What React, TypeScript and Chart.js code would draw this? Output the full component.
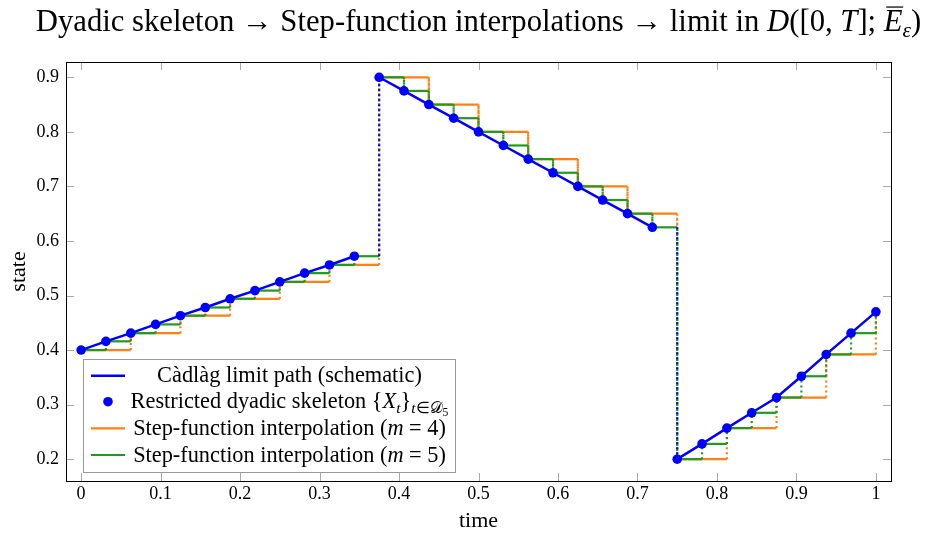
import React, { useEffect, useRef } from 'react';
import { Chart, registerables } from 'chart.js';

Chart.register(...registerables);

// ---------- data ----------
const dyadicTimes = [
  0, 0.03125, 0.0625, 0.09375, 0.125, 0.15625, 0.1875, 0.21875, 0.25, 0.28125, 0.3125, 0.34375,
  0.375, 0.40625, 0.4375, 0.46875, 0.5, 0.53125, 0.5625, 0.59375, 0.625, 0.65625, 0.6875, 0.71875,
  0.75, 0.78125, 0.8125, 0.84375, 0.875, 0.90625, 0.9375, 0.96875, 1,
];
const skeletonValues = [
  0.4, 0.416, 0.431, 0.447, 0.463, 0.478, 0.494, 0.509, 0.525, 0.541, 0.556, 0.572,
  0.9, 0.875, 0.85, 0.825, 0.8, 0.775, 0.75, 0.725, 0.7, 0.675, 0.65, 0.625,
  0.2, 0.228, 0.257, 0.285, 0.313, 0.352, 0.392, 0.431, 0.47,
];
const jumpTimes = [0.375, 0.75];
const stepLevels = [4, 5];
const skeletonLevel = 5;

const xTickValues = [0, 0.1, 0.2, 0.3, 0.4, 0.5, 0.6, 0.7, 0.8, 0.9, 1];
const xTickLabels = ['0', '0.1', '0.2', '0.3', '0.4', '0.5', '0.6', '0.7', '0.8', '0.9', '1'];
const yTickValues = [0.2, 0.3, 0.4, 0.5, 0.6, 0.7, 0.8, 0.9];
const yTickLabels = ['0.2', '0.3', '0.4', '0.5', '0.6', '0.7', '0.8', '0.9'];
const xRange = [-0.019, 1.019];
const yRange = [0.16, 0.928];

const xAxisTitle = 'time';
const yAxisTitle = 'state';

type Run = { t: string; it?: boolean; lv?: number; ov?: boolean };

const titleRuns: Run[] = [
  { t: 'Dyadic skeleton \u2192 Step-function interpolations \u2192 limit in ' },
  { t: 'D', it: true },
  { t: '([0, ' },
  { t: 'T', it: true },
  { t: ']; ' },
  { t: 'E', it: true, ov: true },
  { t: '\u03b5', it: true, lv: 1 },
  { t: ')' },
];

const legendRows: Run[][] = [
  [{ t: 'C\u00e0dl\u00e0g limit path (schematic)' }],
  [
    { t: 'Restricted dyadic skeleton {' },
    { t: 'X', it: true },
    { t: 't', it: true, lv: 1 },
    { t: '}' },
    { t: 't', it: true, lv: 1 },
    { t: '\u2208', lv: 1 },
    { t: '\ud835\udc9f', lv: 1 },
    { t: '5', lv: 2 },
  ],
  [{ t: 'Step-function interpolation (' }, { t: 'm', it: true }, { t: ' = 4)' }],
  [{ t: 'Step-function interpolation (' }, { t: 'm', it: true }, { t: ' = 5)' }],
];

// ---------- styles ----------
const BLUE = '#0000ff';
const ORANGE = '#ff8010';
const GREEN = '#1f9a1f';
const FONT = '"Liberation Serif", "Times New Roman", serif';
const legendKinds = [
  { color: BLUE, kind: 'line', width: 2.5 },
  { color: BLUE, kind: 'dot', width: 0 },
  { color: ORANGE, kind: 'line', width: 2.2 },
  { color: GREEN, kind: 'line', width: 2.2 },
];

// ---------- derived tables ----------
type P = { x: number; y: number | null };

function buildBluePath(): P[] {
  const pts: P[] = [];
  dyadicTimes.forEach((t, i) => {
    if (jumpTimes.includes(t)) pts.push({ x: t, y: null });
    pts.push({ x: t, y: skeletonValues[i] });
  });
  return pts;
}

function buildBlueJumps(): P[] {
  const pts: P[] = [];
  dyadicTimes.forEach((t, i) => {
    if (jumpTimes.includes(t) && i > 0) {
      pts.push({ x: t, y: skeletonValues[i - 1] });
      pts.push({ x: t, y: skeletonValues[i] });
      pts.push({ x: t, y: null });
    }
  });
  return pts;
}

function buildStep(m: number): P[] {
  const stride = Math.pow(2, skeletonLevel - m);
  const idx: number[] = [];
  for (let i = 0; i < dyadicTimes.length; i += stride) idx.push(i);
  const pts: P[] = [];
  for (let j = 0; j < idx.length - 1; j++) {
    pts.push({ x: dyadicTimes[idx[j]], y: skeletonValues[idx[j]] });
    pts.push({ x: dyadicTimes[idx[j + 1]], y: skeletonValues[idx[j]] });
  }
  const last = idx[idx.length - 1];
  pts.push({ x: dyadicTimes[last], y: skeletonValues[last] });
  return pts;
}

// ---------- rich text ----------
function runSize(size: number, lv = 0) {
  return lv === 0 ? size : lv === 1 ? size * 0.7 : size * 0.52;
}
function runShift(size: number, lv = 0) {
  return lv === 0 ? 0 : lv === 1 ? size * 0.2 : size * 0.33;
}
function setRunFont(ctx: CanvasRenderingContext2D, size: number, r: Run) {
  ctx.font = `${r.it ? 'italic ' : ''}${runSize(size, r.lv)}px ${FONT}`;
}
function measureRuns(ctx: CanvasRenderingContext2D, runs: Run[], size: number) {
  let w = 0;
  for (const r of runs) {
    setRunFont(ctx, size, r);
    w += ctx.measureText(r.t).width;
  }
  return w;
}
function drawRuns(ctx: CanvasRenderingContext2D, runs: Run[], size: number, x: number, y: number) {
  ctx.textAlign = 'left';
  ctx.textBaseline = 'alphabetic';
  for (const r of runs) {
    setRunFont(ctx, size, r);
    const w = ctx.measureText(r.t).width;
    ctx.fillText(r.t, x, y + runShift(size, r.lv));
    if (r.ov) {
      ctx.beginPath();
      ctx.lineWidth = Math.max(1, size * 0.04);
      const oy = y - size * 0.78;
      ctx.moveTo(x + size * 0.08, oy);
      ctx.lineTo(x + w + size * 0.02, oy);
      ctx.stroke();
    }
    x += w;
  }
}

const decorPlugin = {
  id: 'decor',
  beforeDatasetsDraw(chart: any) {
    const { ctx, chartArea: a, scales } = chart;
    ctx.save();
    ctx.strokeStyle = '#a8a8a8';
    ctx.lineWidth = 1;
    const tl = 8;
    ctx.beginPath();
    for (const v of xTickValues) {
      const px = Math.round(scales.x.getPixelForValue(v)) + 0.5;
      ctx.moveTo(px, a.bottom);
      ctx.lineTo(px, a.bottom - tl);
      ctx.moveTo(px, a.top);
      ctx.lineTo(px, a.top + tl);
    }
    for (const v of yTickValues) {
      const py = Math.round(scales.y.getPixelForValue(v)) + 0.5;
      ctx.moveTo(a.left, py);
      ctx.lineTo(a.left + tl, py);
      ctx.moveTo(a.right, py);
      ctx.lineTo(a.right - tl, py);
    }
    ctx.stroke();
    ctx.restore();
  },
  afterDraw(chart: any) {
    const { ctx, chartArea: a } = chart;
    ctx.save();
    // frame
    ctx.strokeStyle = '#000';
    ctx.lineWidth = 1;
    ctx.strokeRect(Math.round(a.left) + 0.5, Math.round(a.top) + 0.5, Math.round(a.right - a.left), Math.round(a.bottom - a.top));

    ctx.fillStyle = '#000';
    ctx.strokeStyle = '#000';
    // title
    const base = 26;
    const tw0 = measureRuns(ctx, titleRuns, base);
    const tSize = (base * 886) / tw0;
    const tw = measureRuns(ctx, titleRuns, tSize);
    const cx = (a.left + a.right) / 2;
    drawRuns(ctx, titleRuns, tSize, cx - tw / 2, 31);

    // axis titles
    ctx.font = `22px ${FONT}`;
    ctx.textAlign = 'center';
    ctx.textBaseline = 'alphabetic';
    ctx.fillText(xAxisTitle, cx, 527);
    ctx.save();
    ctx.translate(25, (a.top + a.bottom) / 2);
    ctx.rotate(-Math.PI / 2);
    ctx.fillText(yAxisTitle, 0, 0);
    ctx.restore();

    // legend
    const lx = a.left + 17;
    const ly = a.bottom - 122;
    const lw = 372;
    const lh = 113;
    ctx.fillStyle = '#fff';
    ctx.fillRect(lx, ly, lw, lh);
    ctx.strokeStyle = '#999';
    ctx.lineWidth = 1;
    ctx.strokeRect(Math.round(lx) + 0.5, Math.round(ly) + 0.5, lw, lh);
    const lbase = 18;
    const lSize = (lbase * 313) / measureRuns(ctx, legendRows[2], lbase);
    const rowOffsets = [16.7, 42.7, 69.3, 96];
    const textCenter = lx + 206.5;
    legendRows.forEach((runs, i) => {
      const ry = ly + rowOffsets[i];
      const k = legendKinds[i];
      if (k.kind === 'line') {
        ctx.strokeStyle = k.color;
        ctx.lineWidth = k.width;
        ctx.beginPath();
        ctx.moveTo(lx + 8, ry);
        ctx.lineTo(lx + 42, ry);
        ctx.stroke();
      } else {
        ctx.fillStyle = k.color;
        ctx.beginPath();
        ctx.arc(lx + 25, ry, 4.8, 0, Math.PI * 2);
        ctx.fill();
      }
      ctx.fillStyle = '#000';
      ctx.strokeStyle = '#000';
      const w = measureRuns(ctx, runs, lSize);
      drawRuns(ctx, runs, lSize, textCenter - w / 2, ry + lSize * 0.3);
    });
    ctx.restore();
  },
};

const verticalDotted = (ctx: any) =>
  ctx.p0.parsed.x === ctx.p1.parsed.x ? [2, 3] : undefined;

export default function App() {
  const ref = useRef<HTMLCanvasElement | null>(null);
  useEffect(() => {
    if (!ref.current) return;
    const chart = new Chart(ref.current, {
      type: 'line',
      data: {
        datasets: [
          {
            label: 'Restricted dyadic skeleton',
            data: dyadicTimes.map((t, i) => ({ x: t, y: skeletonValues[i] })),
            showLine: false,
            pointRadius: 4.8,
            pointBorderWidth: 0,
            pointBackgroundColor: BLUE,
            borderColor: BLUE,
            order: 0,
          },
          {
            label: 'Càdlàg limit path (schematic)',
            data: buildBluePath(),
            borderColor: BLUE,
            borderWidth: 2.5,
            pointRadius: 0,
            spanGaps: false,
            order: 1,
          },
          {
            label: 'jumps',
            data: buildBlueJumps(),
            borderColor: BLUE,
            borderWidth: 2,
            borderDash: [2, 3],
            pointRadius: 0,
            spanGaps: false,
            order: 2,
          },
          {
            label: 'Step-function interpolation (m = 5)',
            data: buildStep(stepLevels[1]),
            borderColor: GREEN,
            borderWidth: 2.2,
            pointRadius: 0,
            segment: { borderDash: verticalDotted },
            order: 3,
          },
          {
            label: 'Step-function interpolation (m = 4)',
            data: buildStep(stepLevels[0]),
            borderColor: ORANGE,
            borderWidth: 2.2,
            pointRadius: 0,
            segment: { borderDash: verticalDotted },
            order: 4,
          },
        ],
      },
      options: {
        animation: false,
        responsive: false,
        maintainAspectRatio: false,
        layout: { padding: { left: 0, top: 62, right: 37, bottom: 0 } },
        plugins: { legend: { display: false }, tooltip: { enabled: false }, title: { display: false } },
        scales: {
          x: {
            type: 'linear',
            min: xRange[0],
            max: xRange[1],
            grid: { display: false, drawTicks: false, tickLength: 0 },
            border: { display: false },
            afterBuildTicks: (s: any) => {
              s.ticks = xTickValues.map((v) => ({ value: v }));
            },
            afterFit: (s: any) => {
              s.height = 55;
            },
            ticks: {
              autoSkip: false,
              maxRotation: 0,
              padding: 2,
              color: '#000',
              font: { family: FONT, size: 18 },
              callback: (_v: any, i: number) => xTickLabels[i],
            },
          },
          y: {
            type: 'linear',
            min: yRange[0],
            max: yRange[1],
            grid: { display: false, drawTicks: false, tickLength: 0 },
            border: { display: false },
            afterBuildTicks: (s: any) => {
              s.ticks = yTickValues.map((v) => ({ value: v }));
            },
            afterFit: (s: any) => {
              s.width = 66;
            },
            ticks: {
              autoSkip: false,
              padding: 7,
              color: '#000',
              font: { family: FONT, size: 18 },
              callback: (_v: any, i: number) => yTickLabels[i],
            },
          },
        },
      },
      plugins: [decorPlugin],
    } as any);
    return () => chart.destroy();
  }, []);

  return (
    <div style={{ position: 'absolute', left: 0, top: 0, width: 928, height: 536, background: '#fff' }}>
      <canvas ref={ref} width={928} height={536} style={{ display: 'block' }} />
    </div>
  );
}
